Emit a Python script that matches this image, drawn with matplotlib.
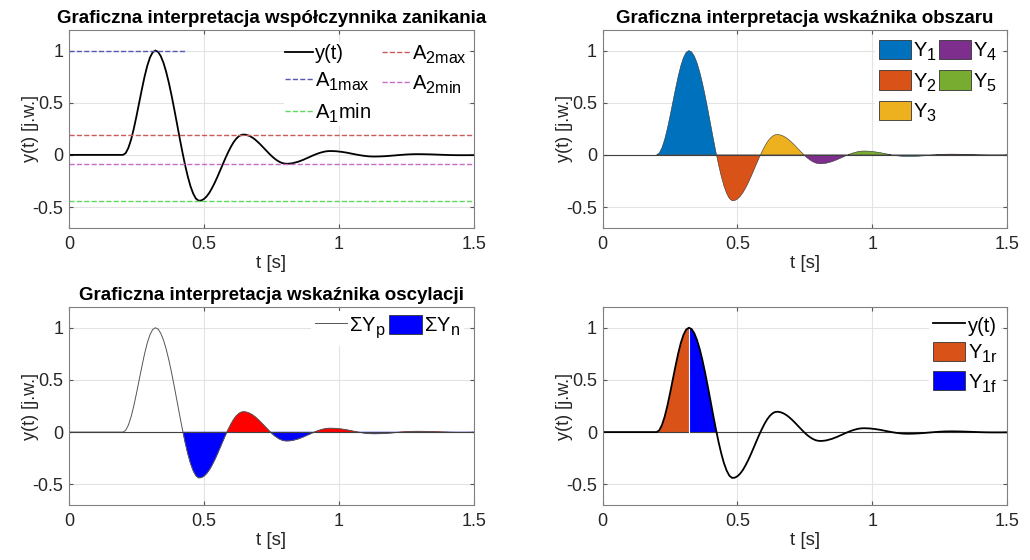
import numpy as np
import matplotlib.pyplot as plt
from matplotlib.patches import Patch

plt.rcParams['font.family'] = ['Liberation Sans', 'DejaVu Sans']
plt.rcParams['mathtext.fontset'] = 'custom'
plt.rcParams['mathtext.rm'] = 'Liberation Sans'
plt.rcParams['mathtext.it'] = 'Liberation Sans'

# bigger, lower subscripts (closer to the MATLAB look)
try:
    import matplotlib._mathtext as _mt
    _mt.SHRINK_FACTOR = 0.8
    _mt.FontConstantsBase.sub1 = 0.45
    _mt.FontConstantsBase.sub2 = 0.6
except Exception:
    pass

# time axis [s] and response y(t) [j.w.]
t_vals = np.concatenate([[0.0], np.round(np.arange(0.20, 0.975, 0.01), 2),
                         np.round(np.arange(0.99, 1.495, 0.02), 2), [1.50]])
y_vals = np.array([
    0.0,
    0.0, 0.017, 0.067, 0.146, 0.25, 0.371, 0.5, 0.629, 0.75, 0.854, 0.933, 0.983, 1.0,
    0.987, 0.947, 0.883, 0.796, 0.691, 0.570, 0.438, 0.301, 0.162, 0.029, -0.096,
    -0.206, -0.299, -0.370, -0.418, -0.439,
    -0.437, -0.423, -0.398, -0.363, -0.318, -0.267, -0.210, -0.150, -0.089, -0.029,
    0.027, 0.078, 0.122, 0.156, 0.180, 0.193,
    0.195, 0.190, 0.180, 0.165, 0.146, 0.123, 0.098, 0.071, 0.044, 0.017, -0.009,
    -0.032, -0.051, -0.067, -0.078, -0.084,
    -0.085, -0.083, -0.079, -0.072, -0.065, -0.055, -0.045, -0.033, -0.022, -0.010,
    0.001, 0.011, 0.020, 0.027, 0.033, 0.036, 0.037,
    0.035, 0.029, 0.021, 0.0105, 0.0004, -0.008, -0.014, -0.016,
    -0.015, -0.0126, -0.0089, -0.0045, -0.0001, 0.0036, 0.0061, 0.007,
    0.0066, 0.0055, 0.0039, 0.002, 0.0001, -0.0015, -0.0026, -0.003, -0.0029, -0.0025,
    -0.0023,
])

# levels of the decay ratio
a1max = 1.0
a1min = -0.44
a2max = 0.195
a2min = -0.085
t_start = 0.20
t_peak = 0.32

mat_colors = ['#0072BD', '#D95319', '#EDB120', '#7E2F8E', '#77AC30', '#4DBEEE', '#A2142F']
leg_kw = dict(frameon=True, facecolor='white', edgecolor='none', framealpha=1.0,
              fontsize=14.5, loc='upper right')


def lobes(t, y, t0):
    # split the curve into half-waves between zero crossings
    m = t >= t0
    tt, yy = t[m], y[m]
    cross = [t0]
    for i in range(len(tt) - 1):
        if yy[i] * yy[i + 1] < 0:
            cross.append(tt[i] - yy[i] * (tt[i + 1] - tt[i]) / (yy[i + 1] - yy[i]))
    cross.append(tt[-1])
    out = []
    for a, b in zip(cross[:-1], cross[1:]):
        inner = (tt > a) & (tt < b)
        out.append((np.concatenate([[a], tt[inner], [b]]),
                    np.concatenate([[0], yy[inner], [0]])))
    return out


def style(ax, title=None):
    ax.set_xlim(0, 1.5)
    ax.set_ylim(-0.7, 1.2)
    ax.set_xticks([0, 0.5, 1, 1.5])
    ax.set_xticklabels(['0', '0.5', '1', '1.5'])
    ax.set_yticks([-0.5, 0, 0.5, 1])
    ax.set_yticklabels(['-0.5', '0', '0.5', '1'])
    ax.grid(True, color='#e3e3e3', linewidth=0.8)
    ax.set_axisbelow(True)
    ax.tick_params(direction='in', labelsize=13, length=3, color='#555555',
                   labelcolor='#262626', top=True, right=True)
    ax.tick_params(axis='x', pad=6)
    ax.tick_params(axis='y', pad=4)
    for s in ax.spines.values():
        s.set_color('#808080')
        s.set_linewidth(0.8)
    ax.set_xlabel('t [s]', fontsize=13.5, color='#262626', labelpad=1)
    ax.set_ylabel('y(t) [j.w.]', fontsize=13, color='#262626')
    ax.yaxis.set_label_coords(-0.074, 0.5)
    if title:
        ax.set_title(title, fontsize=13.5, fontweight='bold', pad=5)


fig = plt.figure(figsize=(10.3, 5.6), dpi=100)
ax1 = fig.add_axes([0.067, 0.593, 0.393, 0.354])
ax2 = fig.add_axes([0.585, 0.593, 0.393, 0.354])
ax3 = fig.add_axes([0.067, 0.098, 0.393, 0.354])
ax4 = fig.add_axes([0.585, 0.098, 0.393, 0.354])

# --- decay ratio
style(ax1, 'Graficzna interpretacja współczynnika zanikania')
h_y, = ax1.plot(t_vals, y_vals, color='black', lw=1.3)
h1, = ax1.plot([0, 0.43], [a1max, a1max], '--', color='#5656B8', lw=1.0)
h3, = ax1.plot([0, 1.5], [a1min, a1min], '--', color='#5EDB5E', lw=1.0)
h2, = ax1.plot([0, 1.5], [a2max, a2max], '--', color='#CC5A5A', lw=1.0)
h4, = ax1.plot([0, 1.5], [a2min, a2min], '--', color='#C86AC8', lw=1.0)
ax1.legend([h_y, h1, h3, h2, h4],
           ['y(t)', 'A$_{\\mathregular{1max}}$', 'A$_{\\mathregular{1}}$min',
            'A$_{\\mathregular{2max}}$', 'A$_{\\mathregular{2min}}$'],
           ncol=2, bbox_to_anchor=(1.01, 0.99), handlelength=1.4, borderpad=0.05,
           handletextpad=0.1, columnspacing=0.5, labelspacing=0.38, **leg_kw)

# --- area index
style(ax2, 'Graficzna interpretacja wskaźnika obszaru')
ax2.axhline(0, color='#404040', lw=0.8)
handles = []
for k, (tt, yy) in enumerate(lobes(t_vals, y_vals, t_start)):
    c = mat_colors[k % len(mat_colors)]
    ax2.fill(tt, yy, facecolor=c, edgecolor='#333333', lw=0.4)
    if k < 5:
        handles.append(Patch(facecolor=c, edgecolor='#333333', lw=0.6))
ax2.legend(handles, ['Y$_{\\mathregular{%d}}$' % (k + 1) for k in range(5)],
           ncol=2, bbox_to_anchor=(1.01, 1.02), handlelength=1.6, handleheight=1.1,
           borderpad=0.2, handletextpad=0.1, columnspacing=0.1, labelspacing=0.35,
           **leg_kw)

# --- oscillation index
style(ax3, 'Graficzna interpretacja wskaźnika oscylacji')
h_p, = ax3.plot(t_vals, y_vals, color='#555555', lw=0.7)
ax3.axhline(0, color='#404040', lw=0.8)
for k, (tt, yy) in enumerate(lobes(t_vals, y_vals, t_start)):
    if k == 0:
        continue
    c = 'blue' if yy.mean() < 0 else 'red'
    ax3.fill(tt, yy, facecolor=c, edgecolor=c, lw=0.4)
ax3.legend([h_p, Patch(facecolor='blue', edgecolor='#333333', lw=0.6)],
           ['ΣY$_{\\mathregular{p}}$', 'ΣY$_{\\mathregular{n}}$'],
           ncol=2, bbox_to_anchor=(1.0, 1.03), handlelength=1.6, handleheight=1.1,
           borderpad=0.2, handletextpad=0.1, columnspacing=0.2, **leg_kw)

# --- rise / fall of the first half-wave
style(ax4)
ax4.axhline(0, color='#404040', lw=0.8)
first_t, first_y = lobes(t_vals, y_vals, t_start)[0]
rise = first_t <= t_peak
fall = first_t >= t_peak
ax4.fill(np.append(first_t[rise], t_peak), np.append(first_y[rise], 0),
         facecolor=mat_colors[1], edgecolor='none')
ax4.fill(np.insert(first_t[fall], 0, t_peak), np.insert(first_y[fall], 0, 0),
         facecolor='blue', edgecolor='none')
ax4.plot([t_peak, t_peak], [0, 1.0], color='white', lw=0.8)
h_y4, = ax4.plot(t_vals, y_vals, color='black', lw=1.3)
ax4.legend([h_y4, Patch(facecolor=mat_colors[1], edgecolor='#333333', lw=0.6),
            Patch(facecolor='blue', edgecolor='#333333', lw=0.6)],
           ['y(t)', 'Y$_{\\mathregular{1r}}$', 'Y$_{\\mathregular{1f}}$'],
           bbox_to_anchor=(1.01, 1.03), handlelength=1.6, handleheight=1.1,
           borderpad=0.2, handletextpad=0.1, labelspacing=0.3, **leg_kw)

fig.savefig('out.png', dpi=100)
